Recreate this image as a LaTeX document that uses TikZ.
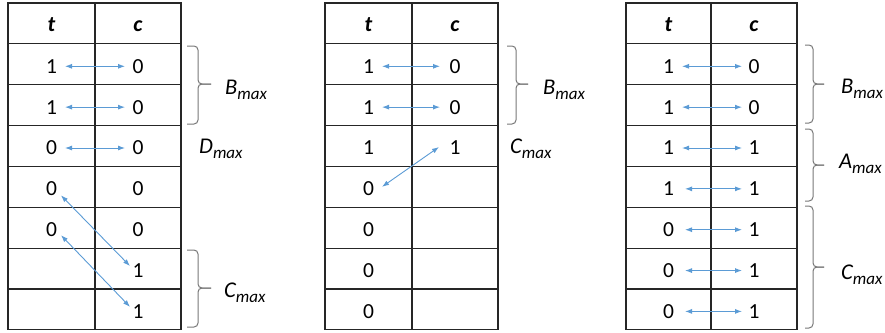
\documentclass[tikz,border=0pt]{standalone}
\usepackage{fontspec}
\setmainfont{Carlito}
\usetikzlibrary{arrows.meta}
\definecolor{arrblue}{RGB}{91,155,213}
\definecolor{bracegray}{RGB}{120,120,120}
\newcommand\tablegrid[3]{%
  \draw[grid] (#1,3) rectangle (#3,329.8);
  \draw[grid] (#2,3) -- (#2,329.8);
  \foreach \i in {1,...,7} \draw[grid] (#1,{3+40.85*\i}) -- (#3,{3+40.85*\i});}
\newcommand\rbr[6]{%
  \draw[bracestyle] (#1,#4) -- (#2,#4) -- (#2,#5) -- (#3,#5);
  \draw[bracestyle] (#1,#6) -- (#2,#6) -- (#2,#5) -- (#3,#5);}
\newcommand\lbl[1]{#1\raisebox{-5pt}{\fontsize{17}{17}\selectfont max}}
\begin{document}
\begin{tikzpicture}[x=1pt,y=-1pt,
  grid/.style={line width=1.1pt, draw=black!85},
  cell/.style={inner sep=0pt, font=\fontsize{21.5}{25}\selectfont},
  head/.style={inner sep=0pt, font=\fontsize{22}{26}\selectfont\bfseries\itshape},
  arr/.style={draw=arrblue, line width=0.9pt, {Latex[length=7pt,width=5pt]}-{Latex[length=7pt,width=5pt]}},
  bracestyle/.style={draw=bracegray, line width=1pt, rounded corners=4pt},
  lab/.style={anchor=base west, inner sep=0pt, font=\fontsize{22.5}{26}\selectfont\itshape}]
\useasboundingbox (0,0) rectangle (885,332);

% grids
\tablegrid{8}{95}{181}
\tablegrid{325}{412}{498}
\tablegrid{626}{711}{797}

% headers
\node[head] (L-ht) at (51.5,25) {t};
\node[head] (L-hc) at (138,26) {c};
\node[head] (M-ht) at (368.5,25) {t};
\node[head] (M-hc) at (455,26) {c};
\node[head] (R-ht) at (668.5,25) {t};
\node[head] (R-hc) at (754,26) {c};

% left table cells
\foreach \v [count=\i] in {1,1,0,0,0}
  \node[cell] (L-t\i) at (51.5,{66.3+40.85*(\i-1)}) {\v};
\foreach \v [count=\i] in {0,0,0,0,0,1,1}
  \node[cell] (L-c\i) at (138,{66.3+40.85*(\i-1)}) {\v};
% middle table cells
\foreach \v [count=\i] in {1,1,1,0,0,0,0}
  \node[cell] (M-t\i) at (368.5,{66.3+40.85*(\i-1)}) {\v};
\foreach \v [count=\i] in {0,0,1}
  \node[cell] (M-c\i) at (455,{66.3+40.85*(\i-1)}) {\v};
% right table cells
\foreach \v [count=\i] in {1,1,1,1,0,0,0}
  \node[cell] (R-t\i) at (668.5,{66.3+40.85*(\i-1)}) {\v};
\foreach \v [count=\i] in {0,0,1,1,1,1,1}
  \node[cell] (R-c\i) at (754,{66.3+40.85*(\i-1)}) {\v};

% arrows left
\foreach \i in {1,2,3}
  \draw[arr] ([xshift=13.5pt]L-t\i.center) -- ([xshift=-13pt]L-c\i.center);
\draw[arr] ([shift={(9.5,6.5)}]L-t4.center) -- ([shift={(-8,-4.5)}]L-c6.center);
\draw[arr] ([shift={(9.5,5.5)}]L-t5.center) -- ([shift={(-8,-4.5)}]L-c7.center);
% arrows middle
\foreach \i in {1,2}
  \draw[arr] ([xshift=13.5pt]M-t\i.center) -- ([xshift=-15pt]M-c\i.center);
\draw[arr] ([shift={(-16,-1)}]M-c3.center) -- ([shift={(13.5,-2)}]M-t4.center);
% arrows right
\foreach \i in {1,2,3}
  \draw[arr] ([xshift=13.5pt]R-t\i.center) -- ([xshift=-12pt]R-c\i.center);
\foreach \i in {4,...,7}
  \draw[arr] ([xshift=16.5pt]R-t\i.center) -- ([xshift=-12pt]R-c\i.center);

% braces
\rbr{187}{198}{211}{46}{84}{124}
\rbr{187}{198}{211}{250}{288}{327}
\rbr{507}{516}{528}{46}{84}{124}
\rbr{805}{813}{824}{45}{84}{123}
\rbr{805}{813}{824}{129}{165}{201}
\rbr{805}{813}{824}{206}{267}{328}

% labels
\node[lab] (L-B) at (225,94) {\lbl{B}};
\node[lab] (L-D) at (199,153) {\lbl{D}};
\node[lab] (L-C) at (224,297) {\lbl{C}};
\node[lab] (M-B) at (543,94) {\lbl{B}};
\node[lab] (M-C) at (510,153) {\lbl{C}};
\node[lab] (R-B) at (841,93) {\lbl{B}};
\node[lab] (R-A) at (839,168) {\lbl{A}};
\node[lab] (R-C) at (841,279) {\lbl{C}};
\end{tikzpicture}
\end{document}
